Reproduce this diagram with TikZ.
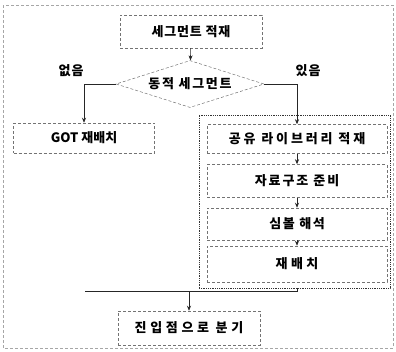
\documentclass[tikz,border=0pt]{standalone}
\usepackage{fontspec}
\setmainfont{Noto Sans CJK KR}
\usetikzlibrary{shapes.geometric,arrows.meta}
\begin{document}
\begin{tikzpicture}[x=1pt,y=-1pt,
  lbl/.style={font=\fontsize{13}{15}\selectfont\bfseries\addfontfeature{LetterSpace=#1}},
  lbl/.default=0,
  box/.style={draw=black!55, densely dashed, line width=0.5pt, minimum width=#1, inner sep=0pt},
  conn/.style={draw=black!85, line width=0.6pt},
  arr/.style={conn, -{Stealth[length=5pt,width=4pt]}},
  cont/.style={draw=black!80, densely dotted, line width=0.8pt, inner sep=0pt}]
\useasboundingbox (0,0) rectangle (396,351);
\draw[black!35, line width=0.4pt, densely dashed] (3,5) rectangle (393,348);

\node[box=142pt, minimum height=33pt, lbl=6] (top) at (191,31.5) {세그먼트 적재};
\node[diamond, draw=black!55, densely dashed, line width=0.5pt, minimum width=148pt, minimum height=47pt, inner sep=0pt, aspect=3.15, lbl=13] (dia) at (190,84) {동적 세그먼트};
\node[lbl=8] (no) at (71,71) {없음};
\node[lbl=8] (yes) at (308,71) {있음};

\node[box=141pt, minimum height=30pt, lbl=0] (got) at (84,138) {GOT 재배치};

\node[cont, minimum width=191pt, minimum height=173pt] (con) at (294.5,201.5) {};
\node[box=180pt, minimum height=29pt, lbl=22] (b1) at (297,139) {공유 라이브러리 적재};
\node[box=180pt, minimum height=33pt, lbl=15] (b2) at (297,181) {자료구조 준비};
\node[box=180pt, minimum height=32pt, lbl=12] (b3) at (297,224) {심볼 해석};
\node[box=180pt, minimum height=36pt, lbl=26] (b4) at (297,264) {재배치};

\node[box=142pt, minimum height=34pt, lbl=28] (fin) at (189,328) {진입점으로 분기};

\coordinate (m1) at (297,291);
\coordinate (m0) at (85,291);
\coordinate (mm) at (189,291);

\draw[arr] (top) -- (dia);
\draw[arr] (dia.west) -| (got.north);
\draw[arr] (dia.east) -| (b1.north);
\draw[arr] (b1) -- (b2);
\draw[arr] (b2) -- (b3);
\draw[arr] (b3) -- (b4);
\draw[conn] (con.south -| b4) -- (m1) -- (m0);
\draw[arr] (mm) -- (fin);
\end{tikzpicture}
\end{document}
